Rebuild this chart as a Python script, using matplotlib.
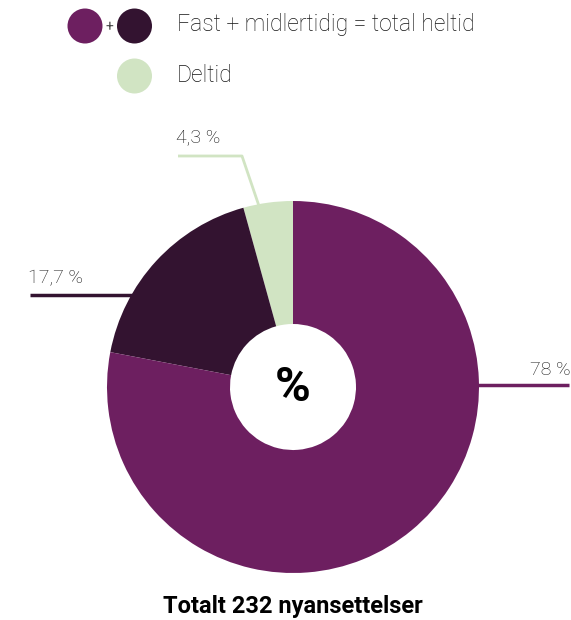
import numpy as np
import matplotlib.pyplot as plt
from matplotlib.patches import Circle

# --- data ---
categories = ["Deltid", "Midlertidig", "Fast"]
shares = [4.3, 17.7, 78.0]
value_labels = ["4,3 %", "17,7 %", "78 %"]
colors = ["#D1E4C3", "#331330", "#6D1F60"]
legend_main = "Fast + midlertidig = total heltid"
legend_part = "Deltid"
total_label = "Totalt 232 nyansettelser"

TXT = "#151515"
plt.rcParams['font.family'] = ['Roboto', 'DejaVu Sans']

W, H = 571, 620
fig = plt.figure(figsize=(W / 100, H / 100), dpi=100)
ax = fig.add_axes([0, 0, 1, 1])

# pixel-like coordinates, y up
cx, cy, R, r_in = 293, H - 387, 186, 63
ax.pie(shares, colors=colors, startangle=90, counterclock=True,
       center=(cx, cy), radius=R,
       wedgeprops=dict(width=R - r_in, linewidth=0))
ax.set_xlim(0, W)
ax.set_ylim(0, H)
ax.set_aspect('equal')
ax.axis('off')

ax.text(cx, cy - 1, "%", ha='center', va='center', fontsize=35,
        fontweight='bold', color='black')

# leader lines + value labels
def edge_x(y, side):
    return cx + side * np.sqrt(R ** 2 - (y - cy) ** 2)

# 4,3 %
y1 = H - 156
ax.plot([178, 242, 259], [y1, y1, H - 206], color=colors[0], lw=2,
        solid_capstyle='butt')
ax.text(176, y1 + 10, value_labels[0], ha='left', va='bottom',
        fontsize=14, color=TXT, fontweight='light')
# 17,7 %
y2 = H - 295
ax.plot([30, edge_x(y2, -1) + 2], [y2, y2], color=colors[1], lw=2.5,
        solid_capstyle='butt')
ax.text(28, y2 + 8, value_labels[1], ha='left', va='bottom',
        fontsize=14, color=TXT, fontweight='light')
# 78 %
y3 = H - 385
ax.plot([edge_x(y3, 1) - 2, 569], [y3, y3], color=colors[2], lw=2.5,
        solid_capstyle='butt')
ax.text(571, y3 + 6, value_labels[2], ha='right', va='bottom',
        fontsize=14, color=TXT, fontweight='light')

# legend
lr = 17.5
ax.add_patch(Circle((85, H - 26), lr, color=colors[2], lw=0))
ax.add_patch(Circle((134.5, H - 26), lr, color=colors[1], lw=0))
ax.text(109.5, H - 27, "+", ha='center', va='center', fontsize=10,
        color="#444444")
ax.add_patch(Circle((134.5, H - 76), lr, color=colors[0], lw=0))
ax.text(177, H - 25, legend_main, ha='left', va='center', fontsize=16.5,
        color=TXT, fontweight='light')
ax.text(177, H - 75, legend_part, ha='left', va='center', fontsize=16.5,
        color=TXT, fontweight='light')

ax.text(293, H - 607, total_label, ha='center', va='center', fontsize=17,
        fontweight='bold', color='black')

fig.savefig("out.png", dpi=100)
